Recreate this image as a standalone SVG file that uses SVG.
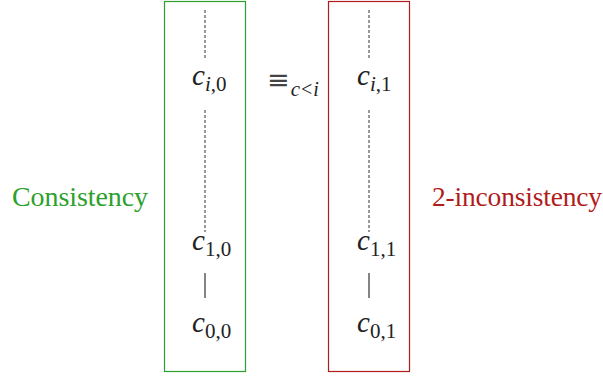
<svg xmlns="http://www.w3.org/2000/svg" width="603" height="378" viewBox="0 0 603 378">
<rect width="603" height="378" fill="#fff"/>
<g id="box-consistency">
<rect x="164.5" y="1.5" width="81" height="370" fill="none" stroke="#2ca02c" stroke-width="1.2"/>
</g>
<g id="box-inconsistency">
<rect x="328.5" y="1.5" width="81" height="370" fill="none" stroke="#b01c1c" stroke-width="1.2"/>
</g>
<g id="connectors" fill="none" stroke-width="1.2">
<g stroke="#555" stroke-dasharray="3 2">
<line x1="205" y1="10" x2="205" y2="60"/>
<line x1="205" y1="110" x2="205" y2="232"/>
<line x1="369" y1="10" x2="369" y2="60"/>
<line x1="369" y1="110" x2="369" y2="232"/>
</g>
<line stroke="#333" x1="205" y1="273" x2="205" y2="298"/>
<line stroke="#333" x1="369" y1="273" x2="369" y2="298"/>
</g>
<g font-family="Liberation Serif" fill="#222">
<g id="n-ci0"><text x="192" y="85"><tspan font-style="italic" font-size="29">c</tspan><tspan font-style="italic" font-size="21" dy="6">i</tspan><tspan font-size="21">,0</tspan></text></g>
<g id="n-c10"><text x="192" y="250"><tspan font-style="italic" font-size="29">c</tspan><tspan font-size="21" dy="6">1,0</tspan></text></g>
<g id="n-c00"><text x="192" y="332"><tspan font-style="italic" font-size="29">c</tspan><tspan font-size="21" dy="6">0,0</tspan></text></g>
<g id="n-ci1"><text x="357" y="85"><tspan font-style="italic" font-size="29">c</tspan><tspan font-style="italic" font-size="21" dy="6">i</tspan><tspan font-size="21">,1</tspan></text></g>
<g id="n-c11"><text x="357" y="250"><tspan font-style="italic" font-size="29">c</tspan><tspan font-size="21" dy="6">1,1</tspan></text></g>
<g id="n-c01"><text x="357" y="332"><tspan font-style="italic" font-size="29">c</tspan><tspan font-size="21" dy="6">0,1</tspan></text></g>
<g id="equiv"><text x="267" y="89"><tspan font-family="DejaVu Sans" font-size="27" fill="#444">≡</tspan><tspan font-style="italic" font-size="21" dy="7" dx="1">c</tspan><tspan font-size="20" dx="1">&lt;</tspan><tspan font-size="20" font-style="italic" dx="1">i</tspan></text></g>
<g id="lbl-consistency"><text font-size="28" x="12" y="206" fill="#2ca02c" textLength="136">Consistency</text></g>
<g id="lbl-inconsistency"><text font-size="27.5" x="432" y="206" fill="#b01c1c" textLength="170">2-inconsistency</text></g>
</g>
</svg>
